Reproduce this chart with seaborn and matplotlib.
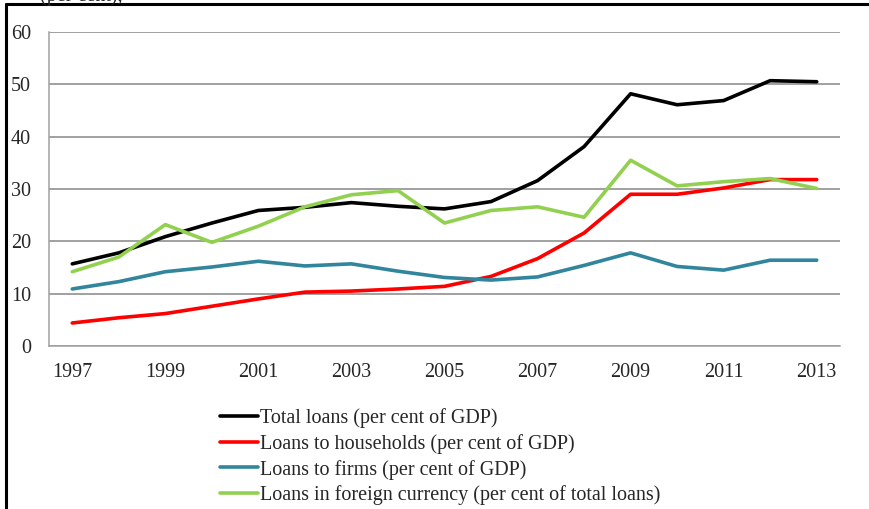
import matplotlib
matplotlib.use("Agg")
import matplotlib.pyplot as plt
import matplotlib.lines as mlines
import seaborn as sns
import pandas as pd

# data
years = list(range(1997, 2014))
total_loans = [15.7, 17.8, 20.9, 23.5, 25.9, 26.5, 27.4, 26.7, 26.2, 27.6, 31.6, 38.1, 48.2, 46.1, 46.9, 50.7, 50.5]
households = [4.4, 5.4, 6.2, 7.6, 9.0, 10.3, 10.5, 10.9, 11.4, 13.3, 16.7, 21.6, 29.0, 29.0, 30.2, 31.8, 31.8]
firms = [10.9, 12.3, 14.2, 15.1, 16.2, 15.3, 15.7, 14.3, 13.1, 12.6, 13.2, 15.4, 17.8, 15.2, 14.5, 16.4, 16.4]
foreign_currency = [14.2, 17.0, 23.2, 19.8, 22.9, 26.6, 28.9, 29.7, 23.5, 25.9, 26.6, 24.6, 35.5, 30.6, 31.4, 32.0, 30.1]

labels = [
    "Total loans (per cent of GDP)",
    "Loans to households (per cent of GDP)",
    "Loans to firms (per cent of GDP)",
    "Loans in foreign currency (per cent of total loans)",
]
colors = ["#000000", "#FF0000", "#31859C", "#92D050"]

df = pd.concat([
    pd.DataFrame({"year": years, "value": vals, "series": lab})
    for lab, vals in zip(labels, [total_loans, households, firms, foreign_currency])
])

sns.set_style("white")
plt.rcParams["font.family"] = ["Liberation Serif", "DejaVu Serif"]
plt.rcParams["font.size"] = 14.5

fig = plt.figure(figsize=(8.69, 5.09), dpi=100)
ax = fig.add_axes([0.0564, 0.3202, 0.9102, 0.6169])

sns.lineplot(data=df, x="year", y="value", hue="series", hue_order=labels,
             palette=dict(zip(labels, colors)), linewidth=2.6, ax=ax, legend=False)

ax.set_xlim(1996.5, 2013.5)
ax.set_ylim(0, 60)
ax.set_yticks(range(0, 61, 10))
ax.yaxis.grid(True, color="#868686", linewidth=1.1)
ax.set_axisbelow(True)

# boundary ticks between categories, labels on every second year
ax.set_xticks([y - 0.5 for y in years] + [2013.5])
ax.set_xticklabels([])
ax.set_xticks(years[::2], minor=True)
ax.set_xticklabels([str(y) for y in years[::2]], minor=True)
ax.tick_params(axis="x", which="major", length=6, color="#A0A0A0", width=1.1, direction="out")
ax.tick_params(axis="x", which="minor", length=0, pad=12, labelsize=14.5)
ax.tick_params(axis="y", length=6, color="#868686", width=1.1, pad=7, labelsize=14.5)
ax.set_xlabel("")
ax.set_ylabel("")

for s in ["top", "right"]:
    ax.spines[s].set_visible(False)
ax.spines["left"].set_color("#A0A0A0")
ax.spines["bottom"].set_color("#A0A0A0")
ax.spines["left"].set_linewidth(1.1)
ax.spines["bottom"].set_linewidth(1.1)

handles = [mlines.Line2D([], [], color=c, linewidth=2.6) for c in colors]
fig.legend(handles, labels, loc="center left", bbox_to_anchor=(0.253, 0.103),
           frameon=False, handlelength=1.9, handletextpad=0.1, labelspacing=0.3,
           borderpad=0, borderaxespad=0, fontsize=14.5)

# cut-off caption and frame at the top
fig.text(0.046, 1 - 1 / 509, "(per cent),", fontsize=14.5, va="baseline")
fig.add_artist(mlines.Line2D([6 / 869, 6 / 869], [0, 1 - 4 / 509], color="black",
                             linewidth=2.2, transform=fig.transFigure))
fig.add_artist(mlines.Line2D([6 / 869, 1], [1 - 4 / 509, 1 - 4 / 509], color="black",
                             linewidth=2.2, transform=fig.transFigure))

fig.savefig("out.png", dpi=100)
